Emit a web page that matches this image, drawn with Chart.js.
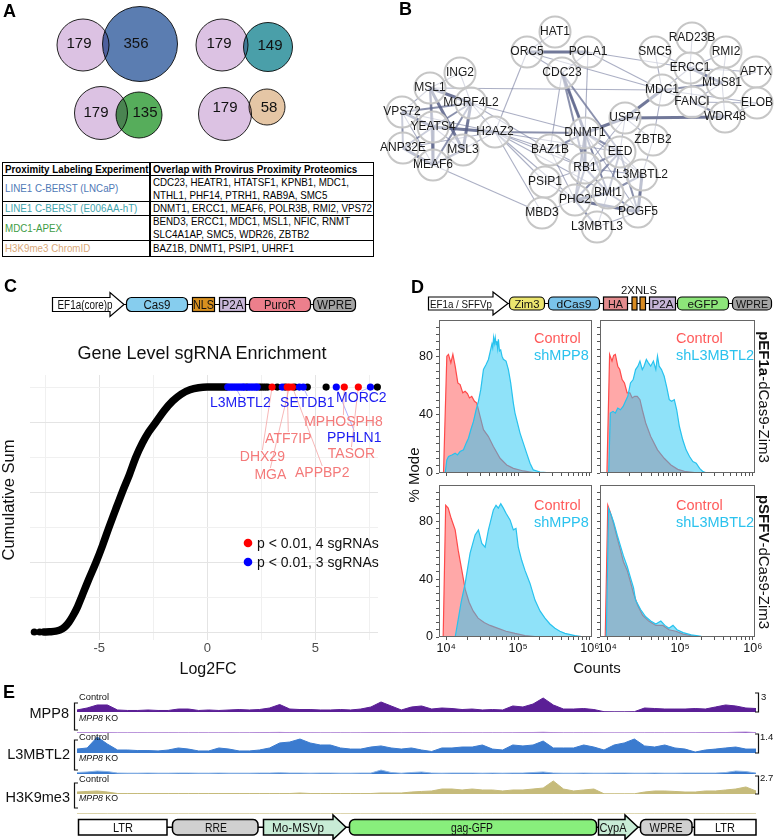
<!DOCTYPE html>
<html><head><meta charset="utf-8"><title>Figure</title>
<script src="https://cdn.jsdelivr.net/npm/chart.js@4.4.1/dist/chart.umd.min.js"></script>
<style>
html,body{margin:0;padding:0;background:#fff;}
#fig{position:relative;width:774px;height:840px;overflow:hidden;font-family:"Liberation Sans",Arial,Helvetica,sans-serif;color:#000;background:#fff;}
#ov{position:absolute;left:0;top:0;width:774px;height:840px;z-index:5;pointer-events:none;}
.tb{position:absolute;left:2px;top:162px;width:372px;height:95px;border:1px solid #000;box-sizing:border-box;font-size:11.5px;}
.hl{position:absolute;left:0;width:370px;height:0;border-top:1px solid #000;}
.vl{position:absolute;top:0;width:2px;height:93px;background:#000;left:146px;}
.cell{position:absolute;display:flex;align-items:center;white-space:nowrap;line-height:12.6px;}
.cell span{display:inline-block;transform:scaleX(0.85);transform-origin:left center;}
.hd{font-weight:bold;}
</style></head>
<body><div id="fig">
<div class="tb">
  <div class="hl" style="top:12px"></div>
  <div class="hl" style="top:37.5px"></div>
  <div class="hl" style="top:51.5px"></div>
  <div class="hl" style="top:77px"></div>
  <div class="vl"></div>
  <div class="cell hd" style="left:2px;top:0;height:12.5px;"><span>Proximity Labeling Experiment</span></div>
  <div class="cell hd" style="left:150px;top:0;height:12.5px;"><span>Overlap with Provirus Proximity Proteomics</span></div>
  <div class="cell" style="left:2px;top:13px;height:25px;color:#4f79b6;"><span>LINE1 C-BERST (LNCaP)</span></div>
  <div class="cell" style="left:150px;top:13px;height:25px;"><span>CDC23, HEATR1, HTATSF1, KPNB1, MDC1,<br>NTHL1, PHF14, PTRH1, RAB9A, SMC5</span></div>
  <div class="cell" style="left:2px;top:38.5px;height:13px;color:#3fa4ad;"><span>LINE1 C-BERST (E006AA-hT)</span></div>
  <div class="cell" style="left:150px;top:38.5px;height:13px;"><span>DNMT1, ERCC1, MEAF6, POLR3B, RMI2, VPS72</span></div>
  <div class="cell" style="left:2px;top:52.5px;height:25px;color:#3f9d46;"><span>MDC1-APEX</span></div>
  <div class="cell" style="left:150px;top:52.5px;height:25px;"><span>BEND3, ERCC1, MDC1, MSL1, NFIC, RNMT<br>SLC4A1AP, SMC5, WDR26, ZBTB2</span></div>
  <div class="cell" style="left:2px;top:78px;height:15px;color:#d9a878;"><span>H3K9me3 ChromID</span></div>
  <div class="cell" style="left:150px;top:78px;height:15px;"><span>BAZ1B, DNMT1, PSIP1, UHRF1</span></div>
</div>

<svg id="ov" xmlns="http://www.w3.org/2000/svg" width="774" height="840" font-family="Liberation Sans, Arial, sans-serif">
 <g font-weight="bold" font-size="18">
  <text x="3" y="17">A</text><text x="399" y="15">B</text><text x="4" y="292">C</text><text x="411" y="293">D</text><text x="3" y="698">E</text>
 </g>
 <!-- C construct -->
 <g stroke="#000" stroke-width="1.2">
  <line x1="118" y1="304.5" x2="314" y2="304.5"/>
  <path d="M52.5,297.5 H110 V292.5 L124,304.5 L110,316.5 V311.5 H52.5 Z" fill="#fff"/>
  <rect x="126.5" y="297.5" width="61" height="14" rx="5" fill="#86cdee"/>
  <rect x="192.5" y="297.5" width="22" height="14" fill="#d8901f"/>
  <rect x="219.5" y="297.5" width="26" height="14" fill="#cab9da"/>
  <rect x="249.5" y="297.5" width="61" height="14" rx="5" fill="#ec7f8c"/>
  <rect x="313.5" y="297.5" width="42" height="14" rx="5" fill="#a3a3a3"/>
 </g>
 <g font-size="12.5" text-anchor="middle" fill="#111">
  <text x="85" y="309" textLength="55" lengthAdjust="spacingAndGlyphs">EF1a(core)p</text>
  <text x="157" y="309" textLength="27" lengthAdjust="spacingAndGlyphs">Cas9</text>
  <text x="203.5" y="309" textLength="21" lengthAdjust="spacingAndGlyphs">NLS</text>
  <text x="232.5" y="309" textLength="22" lengthAdjust="spacingAndGlyphs">P2A</text>
  <text x="280" y="309" textLength="32" lengthAdjust="spacingAndGlyphs">PuroR</text>
  <text x="334.5" y="309" textLength="35" lengthAdjust="spacingAndGlyphs">WPRE</text>
 </g>
 <text x="202" y="359" font-size="18" text-anchor="middle" fill="#111">Gene Level sgRNA Enrichment</text>
 <text transform="translate(14,500) rotate(-90)" font-size="16.5" text-anchor="middle" fill="#111">Cumulative Sum</text>
 <text x="208" y="674" font-size="16" text-anchor="middle" fill="#111">Log2FC</text>
 <circle cx="248" cy="543" r="4.3" fill="#ff0000"/>
 <text x="257" y="548" font-size="14" fill="#111">p &lt; 0.01, 4 sgRNAs</text>
 <circle cx="248" cy="562" r="4.3" fill="#0000ff"/>
 <text x="257" y="567" font-size="14" fill="#111">p &lt; 0.01, 3 sgRNAs</text>
 <!-- D construct -->
 <g stroke="#000" stroke-width="1.2">
  <line x1="495" y1="303.5" x2="770" y2="303.5"/>
  <path d="M428.5,297 H493 V292 L508,303.5 L493,315 V310 H428.5 Z" fill="#fff"/>
  <rect x="509.5" y="297" width="35" height="13" rx="4.5" fill="#ebe56e"/>
  <rect x="548.5" y="297" width="51" height="13" rx="4.5" fill="#7ac3ea"/>
  <rect x="603.5" y="297" width="24" height="13" fill="#e38c8e"/>
  <rect x="632" y="297" width="5" height="13" fill="#d98c22"/>
  <rect x="640" y="297" width="5.5" height="13" fill="#d98c22"/>
  <rect x="649.5" y="297" width="26" height="13" fill="#c7b5d8"/>
  <rect x="677.5" y="297" width="51" height="13" rx="4.5" fill="#8de57a"/>
  <rect x="732.5" y="297" width="39" height="13" rx="4.5" fill="#a3a3a3"/>
 </g>
 <g font-size="11.5" text-anchor="middle" fill="#111">
  <text x="461" y="307.5" textLength="62" lengthAdjust="spacingAndGlyphs">EF1a / SFFVp</text>
  <text x="527" y="307.5" textLength="25" lengthAdjust="spacingAndGlyphs">Zim3</text>
  <text x="574" y="307.5" textLength="35" lengthAdjust="spacingAndGlyphs">dCas9</text>
  <text x="615.5" y="307.5" textLength="15" lengthAdjust="spacingAndGlyphs">HA</text>
  <text x="662.5" y="307.5" textLength="22" lengthAdjust="spacingAndGlyphs">P2A</text>
  <text x="703" y="307.5" textLength="31" lengthAdjust="spacingAndGlyphs">eGFP</text>
  <text x="752" y="307.5" textLength="32" lengthAdjust="spacingAndGlyphs">WPRE</text>
  <text x="639" y="294" textLength="36" lengthAdjust="spacingAndGlyphs">2XNLS</text>
 </g>
 <g font-size="14.5">
  <text x="534" y="343" fill="#ff5a5a">Control</text><text x="534" y="360" fill="#2bc2ee">shMPP8</text>
  <text x="676" y="343" fill="#ff5a5a">Control</text><text x="676" y="360" fill="#2bc2ee">shL3MBTL2</text>
  <text x="534" y="510" fill="#ff5a5a">Control</text><text x="534" y="527" fill="#2bc2ee">shMPP8</text>
  <text x="676" y="510" fill="#ff5a5a">Control</text><text x="676" y="527" fill="#2bc2ee">shL3MBTL2</text>
 </g>
 <text transform="translate(419,475) rotate(-90)" font-size="15" text-anchor="middle" fill="#111">% Mode</text>
 <text x="597" y="673" font-size="15" text-anchor="middle" fill="#111">Counts</text>
 <text transform="translate(759,397) rotate(90)" font-size="15" text-anchor="middle" fill="#111"><tspan font-weight="bold">pEF1a</tspan>-dCas9-Zim3</text>
 <text transform="translate(759,562) rotate(90)" font-size="15" text-anchor="middle" fill="#111"><tspan font-weight="bold">pSFFV</tspan>-dCas9-Zim3</text>
 <!-- E -->
 <g font-size="14.5" text-anchor="end" fill="#111">
  <text x="69" y="718">MPP8</text><text x="70" y="759">L3MBTL2</text><text x="70" y="802">H3K9me3</text>
 </g>
 <g font-size="9.5" fill="#111">
  <text x="79" y="700" textLength="30" lengthAdjust="spacingAndGlyphs">Control</text>
  <text x="79" y="721" textLength="39" lengthAdjust="spacingAndGlyphs"><tspan font-style="italic">MPP8</tspan> KO</text>
  <text x="79" y="740" textLength="30" lengthAdjust="spacingAndGlyphs">Control</text>
  <text x="79" y="761" textLength="39" lengthAdjust="spacingAndGlyphs"><tspan font-style="italic">MPP8</tspan> KO</text>
  <text x="79" y="782" textLength="30" lengthAdjust="spacingAndGlyphs">Control</text>
  <text x="79" y="801" textLength="39" lengthAdjust="spacingAndGlyphs"><tspan font-style="italic">MPP8</tspan> KO</text>
  <text x="761" y="700">3</text><text x="760" y="740">1.4</text><text x="760" y="781">2.7</text>
 </g>
 <g stroke="#111" stroke-width="1.2" fill="none">
  <path d="M78,703 H74.5 V730 H78"/><path d="M78,740 H74.5 V770 H78"/><path d="M78,783 H74.5 V808 H78"/>
  <path d="M755,693 H758.5 V712 H755"/><path d="M755,734 H758.5 V753 H755"/><path d="M755,776 H758.5 V794 H755"/>
 </g>
 <g stroke="#000" stroke-width="1.5">
  <line x1="167" y1="827.3" x2="694" y2="827.3"/>
  <rect x="78.5" y="819.5" width="88.5" height="15.5" fill="#fff"/>
  <rect x="172.5" y="819.5" width="85.5" height="15.5" rx="5" fill="#d0d0d0"/>
  <path d="M263.5,819.5 H333 V815 L346,827.3 L333,839.5 V835 H263.5 Z" fill="#c8ecd6"/>
  <rect x="349.5" y="819.5" width="247" height="15.5" rx="5" fill="#88ef7c"/>
  <path d="M598.5,819.5 H625 V815 L638,827.3 L625,839.5 V835 H598.5 Z" fill="#c8ecd6"/>
  <rect x="640.5" y="819.5" width="51.5" height="15.5" rx="5" fill="#d0d0d0"/>
  <rect x="694.5" y="819.5" width="61.5" height="15.5" fill="#fff"/>
 </g>
 <g font-size="13" text-anchor="middle" fill="#111">
  <text x="123" y="832" textLength="20" lengthAdjust="spacingAndGlyphs">LTR</text>
  <text x="216" y="832" textLength="22" lengthAdjust="spacingAndGlyphs">RRE</text>
  <text x="298" y="832" textLength="52" lengthAdjust="spacingAndGlyphs">Mo-MSVp</text>
  <text x="472" y="832" textLength="42" lengthAdjust="spacingAndGlyphs">gag-GFP</text>
  <text x="613" y="832" textLength="27" lengthAdjust="spacingAndGlyphs">CypA</text>
  <text x="666" y="832" textLength="33" lengthAdjust="spacingAndGlyphs">WPRE</text>
  <text x="725" y="832" textLength="20" lengthAdjust="spacingAndGlyphs">LTR</text>
 </g>
</svg>
</div>
<script>
// ================= DATA =================
// Panel A – Venn counts
const vennExperiments = ['LINE1 C-BERST (LNCaP)','LINE1 C-BERST (E006AA-hT)','MDC1-APEX','H3K9me3 ChromID'];
const provirusProteins = [179,179,179,179];
const experimentProteins = [356,149,135,58];

// Panel B – STRING network
const netNodes = ['HAT1','ORC5','POLA1','CDC23','RAD23B','SMC5','RMI2','ERCC1','APTX','MUS81','MDC1','FANCI','ELOB','WDR48','USP7','ZBTB2','DNMT1','EED','BAZ1B','RB1','L3MBTL2','PSIP1','BMI1','PHC2','PCGF5','MBD3','L3MBTL3','ING2','MSL1','MORF4L2','VPS72','YEATS4','H2AZ2','ANP32E','MSL3','MEAF6'];
const netEdges = [
['ING2','MORF4L2',1],['ING2','MSL1',1],['MSL1','MORF4L2',3],['MSL1','VPS72',1],['MSL1','YEATS4',2],['MSL1','MSL3',3],['MSL1','MEAF6',2],['VPS72','YEATS4',3],['VPS72','ANP32E',2],['VPS72','MORF4L2',2],['VPS72','MEAF6',1],['YEATS4','ANP32E',2],['YEATS4','MEAF6',3],['YEATS4','MORF4L2',2],['YEATS4','H2AZ2',3],['YEATS4','MSL3',1],['ANP32E','MEAF6',3],['ANP32E','H2AZ2',1],['MORF4L2','MSL3',3],['MORF4L2','MEAF6',2],['MORF4L2','H2AZ2',1],['MSL3','MEAF6',2],['MEAF6','H2AZ2',1],['VPS72','H2AZ2',1],['MSL1','MDC1',1],['MORF4L2','DNMT1',1],['MORF4L2','BAZ1B',1],['MEAF6','MBD3',1],['H2AZ2','ORC5',1],['H2AZ2','BAZ1B',1],['H2AZ2','PSIP1',1],['H2AZ2','MBD3',1],['H2AZ2','PHC2',1],['H2AZ2','RB1',1],['H2AZ2','DNMT1',2],['H2AZ2','EED',1],['H2AZ2','BMI1',1],
['HAT1','ORC5',1],['ORC5','POLA1',3],['ORC5','CDC23',1],['ORC5','MDC1',1],['POLA1','CDC23',1],['POLA1','MDC1',1],['POLA1','DNMT1',1],['POLA1','ERCC1',1],['CDC23','DNMT1',3],['CDC23','RB1',2],['CDC23','EED',2],['CDC23','BAZ1B',1],['CDC23','BMI1',1],
['RAD23B','ERCC1',1],['SMC5','ERCC1',1],['SMC5','MDC1',1],['RMI2','ERCC1',1],['RMI2','MUS81',1],['ERCC1','MUS81',3],['ERCC1','MDC1',1],['ERCC1','FANCI',1],['ERCC1','APTX',1],['APTX','MUS81',1],['MUS81','MDC1',2],['MUS81','FANCI',1],['MUS81','WDR48',1],['MDC1','FANCI',1],['MDC1','USP7',3],['MDC1','ELOB',1],['MDC1','ZBTB2',1],['FANCI','ELOB',1],['FANCI','WDR48',2],['WDR48','USP7',3],['WDR48','ELOB',1],['USP7','DNMT1',3],['USP7','EED',1],['USP7','ZBTB2',1],['USP7','RB1',1],
['DNMT1','BAZ1B',2],['DNMT1','RB1',3],['DNMT1','EED',2],['DNMT1','BMI1',2],['DNMT1','L3MBTL2',1],['DNMT1','PHC2',2],['DNMT1','PCGF5',1],['EED','RB1',2],['EED','BMI1',2],['EED','L3MBTL2',1],['EED','PCGF5',2],['EED','PHC2',2],['RB1','BMI1',2],['RB1','PHC2',2],['RB1','L3MBTL2',1],['RB1','BAZ1B',1],['BMI1','PHC2',3],['BMI1','PCGF5',2],['BMI1','L3MBTL2',2],['BMI1','L3MBTL3',1],['PHC2','PCGF5',3],['PHC2','L3MBTL3',2],['PHC2','MBD3',1],['L3MBTL2','PCGF5',3],['L3MBTL2','ZBTB2',1],['BAZ1B','PHC2',1],['PSIP1','PHC2',1],['PSIP1','RB1',1],['L3MBTL3','PCGF5',1]
];

// Panel C – cumulative sum of gene-level log2FC (thousands of genes)
const curveLog2FC = [-7.55,-7.3,-7.0,-6.8,-6.6,-6.4,-6.2,-6.0,-5.8,-5.5,-5.14,-4.84,-4.54,-4.25,-3.93,-3.6,-3.3,-3.0,-2.7,-2.37,-2.0,-1.6,-1.2,-0.8,-0.4,0.0,0.4,0.8];
const curveCumSum = [0.0,0.02,0.06,0.15,0.35,0.7,1.2,1.8,2.55,3.7,5.0,6.2,7.5,8.7,10.0,11.25,12.5,13.5,14.3,15.0,15.8,16.5,17.0,17.3,17.45,17.5,17.5,17.5];
const lowOutlierLog2FC = [-8.0,-7.75];
const cumTotal = 17.5;
const topBlackLog2FC = [0.9,1.81,2.41,2.5,2.6,2.7,2.8,3.24,3.6,4.05,4.63,5.5,7.87];
const topBlueLog2FC = [0.95,1.03,1.11,1.19,1.27,1.35,1.43,1.51,1.59,1.67,1.71,1.87,1.95,2.03,2.11,2.19,2.27,2.31,3.47,4.26,4.44,5.97,7.55];
const topRedLog2FC = [3.0,3.7,3.8,3.94,6.34,6.99];
const sigGenes = ['L3MBTL2','SETDB1','PPHLN1','MORC2','DHX29','ATF7IP','MGA','APPBP2','MPHOSPH8','TASOR'];
const sigGeneLog2FC = [1.3,4.44,5.97,7.55,3.0,3.7,3.8,3.94,6.34,6.99];
const sigGeneSgRNAs = [3,3,3,3,4,4,4,4,4,4];
const cTickValues = [-5,0,5];

// Panel D – flow histograms: [log10(counts), % of mode]
const histTickValues = [1e4,1e5,1e6];
const histTickLabels = ['10\u2074','10\u2075','10\u2076'];
const modeTickLabels = [0,40,80];
const histEF1a_ctrlA = [[3.963,0],[4.009,80.2],[4.032,81.4],[4.065,75.6],[4.093,81.4],[4.125,73.3],[4.162,61.8],[4.194,60.7],[4.231,55],[4.264,56.1],[4.296,54.5],[4.324,51.5],[4.356,52.6],[4.394,49.2],[4.426,48],[4.472,38.9],[4.519,29.7],[4.588,25],[4.657,18.2],[4.75,10.1],[4.843,5.5],[4.935,3.2],[5.074,1.4],[5.213,0.2],[5.398,0]];
const histEF1a_shMPP8 = [[3.986,0],[4.009,9],[4.032,11.3],[4.079,12.4],[4.125,13.6],[4.157,12.4],[4.194,14.7],[4.241,15.9],[4.278,20.5],[4.31,23.9],[4.343,29.7],[4.38,35.4],[4.417,43.4],[4.449,49.2],[4.481,57.2],[4.519,71],[4.556,74.5],[4.588,77.9],[4.62,84.8],[4.637,88.5],[4.648,86],[4.66,92.9],[4.671,89],[4.683,93],[4.695,88],[4.704,90.5],[4.716,85.5],[4.727,91.7],[4.742,83.7],[4.759,84.5],[4.777,80.2],[4.796,78],[4.833,76.8],[4.866,71],[4.898,61.8],[4.935,48],[4.958,41.1],[4.981,36.6],[5.028,27.4],[5.074,20.5],[5.12,13.6],[5.167,6.7],[5.213,2.1],[5.306,0.7],[5.398,0.2],[5.583,0]];
const histEF1a_ctrlB = [[3.995,0],[4.032,81.4],[4.065,76.8],[4.088,80.7],[4.111,81.4],[4.144,73.3],[4.171,71],[4.204,64.1],[4.236,61.8],[4.273,55],[4.31,55],[4.343,51.5],[4.375,52.6],[4.412,52.6],[4.449,50.3],[4.481,43.4],[4.528,34.3],[4.597,25],[4.69,15.9],[4.782,10.1],[4.875,5.5],[4.968,2.5],[5.06,1.1],[5.199,0.2],[5.3,0]];
const histEF1a_shL3MBTL2 = [[4.019,0],[4.042,41.1],[4.079,42.3],[4.111,41.1],[4.144,44.6],[4.181,43.4],[4.218,45.7],[4.25,49.2],[4.282,52.6],[4.319,61.8],[4.356,64.1],[4.389,71],[4.421,73.3],[4.449,76.8],[4.481,71],[4.505,73.3],[4.537,77.9],[4.565,75.6],[4.597,73.3],[4.634,76.8],[4.667,71],[4.69,80.2],[4.713,73.3],[4.745,71],[4.782,66.4],[4.819,58.4],[4.852,50.3],[4.884,49.2],[4.921,50.3],[4.954,43.4],[4.991,31.9],[5.037,22.8],[5.083,15.9],[5.13,11.3],[5.176,7.8],[5.222,6.7],[5.269,3.2],[5.315,0.9],[5.361,0.2],[5.431,0]];
const histSFFV_ctrlA = [[3.958,0],[3.993,91],[4.028,89],[4.069,82],[4.125,74],[4.167,60],[4.218,46],[4.264,33],[4.319,24],[4.375,18],[4.444,13],[4.528,10],[4.611,8],[4.722,6],[4.833,4],[4.958,2.5],[5.097,1],[5.306,0]];
const histSFFV_shMPP8 = [[4.125,0],[4.167,12],[4.208,24],[4.264,37],[4.333,58],[4.403,70.5],[4.449,74],[4.496,64.6],[4.542,62],[4.588,74],[4.657,87.8],[4.694,91],[4.726,89],[4.76,92],[4.796,89],[4.833,85.5],[4.889,80.9],[4.935,74],[4.972,75],[5.004,62],[5.051,53],[5.097,46],[5.167,37],[5.236,25.5],[5.306,18],[5.375,13],[5.444,9],[5.514,6],[5.583,4],[5.653,2.5],[5.792,1],[5.931,0]];
const histSFFV_ctrlB = [[3.972,0],[4.007,91],[4.042,86],[4.088,78],[4.139,68],[4.181,60],[4.222,52],[4.274,46],[4.319,38],[4.361,30],[4.417,22],[4.486,15],[4.569,11],[4.667,8],[4.764,8],[4.847,5],[4.944,4],[5.042,2],[5.153,1],[5.292,0]];
const histSFFV_shL3MBTL2 = [[3.986,0],[4.018,88.7],[4.056,84],[4.088,79.3],[4.139,70],[4.181,63],[4.222,56],[4.274,48.7],[4.319,41],[4.361,34],[4.389,25.5],[4.458,19],[4.528,14],[4.597,11],[4.667,9],[4.736,11],[4.792,8],[4.847,6],[4.903,8],[4.958,5],[5.042,3],[5.153,1.5],[5.292,0.5],[5.458,0]];

// Panel E – coverage tracks (68 bins across the provirus)
const trackScaleMax = [3,1.4,2.7];
const mpp8Control = [0.32,0.63,1.11,1.11,0.32,0.24,0.24,0.32,0.24,0.24,0.47,0.47,0.24,0.32,0.24,0.32,0.39,0.32,0.39,0.63,1.18,0.47,0.39,0.39,0.32,0.32,0.39,0.32,0.47,0.79,1.58,0.95,0.32,0.79,0.95,0.47,0.63,0.55,0.39,0.47,0.32,0.39,0.32,0.95,0.79,1.26,2.21,1.11,0.47,0.47,0.55,0.39,0.05,0.03,0.03,0.05,0.63,0.55,0.47,0.47,0.47,0.55,0.47,0.79,1.11,0.95,0.63,0.55];
const mpp8KO = [0.05,0.06,0.08,0.06,0.04,0.04,0.05,0.04,0.04,0.05,0.04,0.04,0.05,0.04,0.04,0.05,0.04,0.05,0.06,0.08,0.1,0.06,0.05,0.05,0.04,0.04,0.05,0.04,0.05,0.06,0.08,0.06,0.05,0.06,0.07,0.05,0.04,0.05,0.05,0.04,0.04,0.05,0.04,0.05,0.06,0.08,0.12,0.06,0.04,0.04,0.05,0.04,0.02,0.02,0.02,0.02,0.04,0.05,0.04,0.05,0.04,0.05,0.06,0.08,0.07,0.12,0.15,0.06];
const l3mbtl2Control = [0.29,0.37,1.18,0.66,0.22,0.22,0.18,0.18,0.15,0.22,0.37,0.29,0.15,0.15,0.37,0.29,0.15,0.15,0.22,0.37,0.74,0.81,1.03,0.74,0.59,0.59,0.37,0.29,0.29,0.44,0.52,0.37,0.29,0.37,0.22,0.11,0.37,0.37,0.44,0.44,0.59,0.29,0.22,0.59,0.52,0.59,0.88,0.37,0.37,0.37,0.59,0.44,0.22,0.59,0.74,1.03,0.52,0.44,0.59,0.37,0.29,0.07,0.22,0.29,0.37,0.44,0.29,0.29];
const l3mbtl2KO = [0.11,0.15,0.22,0.18,0.07,0.06,0.06,0.07,0.06,0.06,0.07,0.07,0.06,0.06,0.07,0.06,0.06,0.06,0.07,0.07,0.09,0.07,0.07,0.06,0.07,0.07,0.06,0.06,0.07,0.07,0.29,0.11,0.06,0.11,0.15,0.07,0.06,0.07,0.07,0.07,0.06,0.07,0.06,0.07,0.07,0.11,0.15,0.07,0.06,0.06,0.07,0.06,0.06,0.07,0.07,0.06,0.06,0.07,0.06,0.06,0.07,0.07,0.07,0.07,0.11,0.22,0.18,0.07];
const h3k9Control = [0.28,0.36,0.43,0.28,0.07,0.07,0.07,0.07,0.07,0.07,0.07,0.07,0.07,0.07,0.07,0.07,0.07,0.07,0.07,0.07,0.07,0.07,0.14,0.07,0.07,0.07,0.07,0.07,0.07,0.07,0.14,0.14,0.14,0.28,0.36,0.43,0.71,0.71,0.57,0.71,0.57,0.57,0.43,0.57,0.57,0.71,0.85,1.85,0.71,0.43,0.57,0.71,0.03,0.03,0.03,0.03,0.28,0.43,0.43,0.36,0.28,0.28,0.43,0.43,0.57,0.71,1.0,0.43];
const h3k9KO = [0.05,0.05,0.06,0.05,0.04,0.04,0.04,0.04,0.04,0.04,0.04,0.04,0.04,0.04,0.04,0.04,0.04,0.04,0.04,0.04,0.04,0.04,0.04,0.04,0.04,0.04,0.04,0.04,0.04,0.04,0.04,0.04,0.04,0.04,0.04,0.04,0.05,0.04,0.04,0.04,0.04,0.04,0.04,0.04,0.04,0.04,0.05,0.05,0.04,0.04,0.04,0.04,0.03,0.03,0.03,0.03,0.04,0.04,0.04,0.04,0.04,0.04,0.04,0.04,0.04,0.04,0.05,0.04];

// ================= LAYOUT (positions only) =================
const vennLayout = [
  {p:[83,45,26], e:[140,44,37.5], pl:[79,44], el:[136,44]},
  {p:[222,45,26], e:[268,47,24.5], pl:[219,44], el:[270,46]},
  {p:[101,113,26.5], e:[139,115,23], pl:[96,113], el:[145,113]},
  {p:[225,114,26.5], e:[267,107,18], pl:[225,108], el:[269,108]}
];
const vennColors = ['#5b7db1','#4a9fa9','#56ad5b','#e5c6a5'];
const netPos = {HAT1:[555,32],ORC5:[527,52],POLA1:[588,52],CDC23:[562,73],RAD23B:[692,38],SMC5:[655,52],RMI2:[726,52],ERCC1:[690,68],APTX:[756,72],MUS81:[722,83],MDC1:[662,90],FANCI:[692,102],ELOB:[757,103],WDR48:[725,117],USP7:[625,118],ZBTB2:[653,140],DNMT1:[585,133],EED:[620,152],BAZ1B:[550,150],RB1:[585,168],L3MBTL2:[642,175],PSIP1:[545,182],BMI1:[608,193],PHC2:[575,200],PCGF5:[638,212],MBD3:[542,213],L3MBTL3:[597,227],ING2:[460,73],MSL1:[430,88],MORF4L2:[471,103],VPS72:[402,112],YEATS4:[433,127],H2AZ2:[495,132],ANP32E:[403,148],MSL3:[463,150],MEAF6:[433,165]};
const sigLabelAt = {L3MBTL2:[1.53,16.36],SETDB1:[4.63,16.36],MORC2:[7.13,16.71],MPHOSPH8:[6.3,15.0],PPHLN1:[6.8,13.86],TASOR:[6.67,12.71],ATF7IP:[3.75,13.79],DHX29:[2.55,12.5],MGA:[2.92,11.21],APPBP2:[5.32,11.36]};

// ================= CHARTS =================
Chart.defaults.font.family = "'Liberation Sans', Arial, sans-serif";
Chart.defaults.animation = false;
Chart.defaults.responsive = false;
Chart.defaults.devicePixelRatio = 1;
Chart.defaults.layout.autoPadding = false;
Chart.defaults.plugins.legend.display = false;
Chart.defaults.plugins.tooltip.enabled = false;
Chart.defaults.events = [];

function mkCanvas(left, top, w, h){
  const c = document.createElement('canvas');
  c.width = w; c.height = h;
  c.style.cssText = 'position:absolute;left:'+left+'px;top:'+top+'px;width:'+w+'px;height:'+h+'px;';
  document.getElementById('fig').appendChild(c);
  return c.getContext('2d');
}
const blendPlugin = {id:'blend',
  beforeDatasetDraw(chart,args){const ds=chart.data.datasets[args.index]; if(ds.blend){chart.ctx.save(); chart.ctx.globalCompositeOperation=ds.blend;}},
  afterDatasetDraw(chart,args){const ds=chart.data.datasets[args.index]; if(ds.blend){chart.ctx.restore();}}
};

// ---- A: Venn ----
new Chart(mkCanvas(0,0,372,160), {
  type:'bubble',
  data:{datasets:[
    {data: vennLayout.map(l=>({x:l.e[0],y:l.e[1],r:l.e[2]})), backgroundColor:vennColors, borderColor:'#222', borderWidth:1, blend:'multiply', order:0, clip:false},
    {data: vennLayout.map(l=>({x:l.p[0],y:l.p[1],r:l.p[2]})), backgroundColor:'#dcc2e3', borderColor:'#222', borderWidth:1, order:1, clip:false}
  ]},
  options:{layout:{padding:0,autoPadding:false}, scales:{x:{type:'linear',display:false,min:0,max:372}, y:{type:'linear',display:false,min:0,max:160,reverse:true}}},
  plugins:[blendPlugin,{id:'vennLabels',afterDatasetsDraw(chart){
    const {ctx,scales:{x,y}}=chart; ctx.save(); ctx.font='15px "Liberation Sans", Arial'; ctx.fillStyle='#111'; ctx.textAlign='center'; ctx.textBaseline='middle';
    vennLayout.forEach((l,i)=>{
      ctx.fillText(String(provirusProteins[i]), x.getPixelForValue(l.pl[0]), y.getPixelForValue(l.pl[1]));
      ctx.fillText(String(experimentProteins[i]), x.getPixelForValue(l.el[0]), y.getPixelForValue(l.el[1]));
    });
    ctx.restore();}}]
});

// ---- B: network ----
(function(){
  const edgeStyle = {1:{c:'rgba(115,122,156,0.6)',w:1.1},2:{c:'rgba(100,108,145,0.75)',w:2},3:{c:'rgba(88,96,135,0.85)',w:3}};
  const ds = netEdges.map(e=>({data:[{x:netPos[e[0]][0],y:netPos[e[0]][1]},{x:netPos[e[1]][0],y:netPos[e[1]][1]}], showLine:true, pointRadius:0, borderColor:edgeStyle[e[2]].c, borderWidth:edgeStyle[e[2]].w, order:1, clip:false}));
  ds.unshift({data: netNodes.map(n=>({x:netPos[n][0],y:netPos[n][1]})), pointRadius:15.5, pointBorderWidth:2, pointBorderColor:'#c6c6c6', pointBackgroundColor:'rgba(255,255,255,0.55)', order:0, clip:false});
  new Chart(mkCanvas(375,0,399,255), {
    type:'scatter', data:{datasets:ds},
    options:{layout:{padding:0,autoPadding:false}, scales:{x:{type:'linear',display:false,min:375,max:774}, y:{type:'linear',display:false,min:0,max:255,reverse:true}}},
    plugins:[{id:'nodeLabels',afterDatasetsDraw(chart){
      const {ctx,scales:{x,y}}=chart; ctx.save(); ctx.font='12px "Liberation Sans", Arial'; ctx.fillStyle='#1a1a1a'; ctx.textAlign='center'; ctx.textBaseline='middle';
      netNodes.forEach(n=>ctx.fillText(n, x.getPixelForValue(netPos[n][0]), y.getPixelForValue(netPos[n][1])));
      ctx.restore();}}]
  });
})();

// ---- C: cumulative sum ----
(function(){
  const pts = a => a.map(v=>({x:v,y:cumTotal}));
  new Chart(mkCanvas(0,370,392,298), {
    type:'scatter',
    data:{datasets:[
      {data:pts(topRedLog2FC), pointRadius:3.6, backgroundColor:'#ff0000', borderWidth:0, order:0, clip:false},
      {data:pts(topBlueLog2FC), pointRadius:3.6, backgroundColor:'#0000ff', borderWidth:0, order:1, clip:false},
      {data:pts(topBlackLog2FC), pointRadius:3.6, backgroundColor:'#000', borderWidth:0, order:2, clip:false},
      {data:lowOutlierLog2FC.map(v=>({x:v,y:0})), pointRadius:3.6, backgroundColor:'#000', borderWidth:0, order:3, clip:false},
      {data:curveLog2FC.map((v,i)=>({x:v,y:curveCumSum[i]})), showLine:true, pointRadius:0, borderColor:'#000', borderWidth:7.5, cubicInterpolationMode:'monotone', borderCapStyle:'round', order:4, clip:false}
    ]},
    options:{
      layout:{padding:{left:30,top:5,right:14,bottom:0},autoPadding:false},
      scales:{
        x:{type:'linear',min:-8.2,max:7.9,
          afterBuildTicks:s=>{s.ticks=[-7.5,-5,-2.5,0,2.5,5,7.5].map(v=>({value:v}));},
          ticks:{autoSkip:false,maxRotation:0,padding:1,font:{size:13},color:'#4d4d4d',callback:v=>cTickValues.includes(v)?String(v):''},
          grid:{drawTicks:false,color:c=>cTickValues.includes(c.tick.value)?'#e4e4e4':'#f0f0f0',lineWidth:1},
          border:{display:false},
          afterFit:s=>{s.height=28;s.paddingLeft=0;s.paddingRight=0;}},
        y:{type:'linear',min:-0.57,max:18.36,
          afterBuildTicks:s=>{s.ticks=[0,2.5,5,7.5,10,12.5,15,17.5].map(v=>({value:v}));},
          ticks:{display:false},
          grid:{drawTicks:false,color:c=>(c.tick.value%5===0)?'#e4e4e4':'#f0f0f0',lineWidth:1},
          border:{display:false},
          afterFit:s=>{s.width=0;s.paddingTop=0;s.paddingBottom=0;}}
      }
    },
    plugins:[{id:'geneLabels',
      beforeDatasetsDraw(chart){
        const {ctx,scales:{x,y}}=chart; ctx.save(); ctx.lineWidth=0.8;
        sigGenes.forEach((g,i)=>{const L=sigLabelAt[g];
          ctx.strokeStyle = sigGeneSgRNAs[i]===4 ? '#f5a5a5' : '#9a9aff';
          ctx.beginPath(); ctx.moveTo(x.getPixelForValue(sigGeneLog2FC[i]), y.getPixelForValue(cumTotal)); ctx.lineTo(x.getPixelForValue(L[0]), y.getPixelForValue(L[1])-7); ctx.stroke();});
        ctx.restore();},
      afterDatasetsDraw(chart){
        const {ctx,scales:{x,y}}=chart; ctx.save(); ctx.font='14px "Liberation Sans", Arial'; ctx.textAlign='center'; ctx.textBaseline='middle';
        sigGenes.forEach((g,i)=>{const L=sigLabelAt[g]; ctx.fillStyle = sigGeneSgRNAs[i]===4 ? '#f47a7a' : '#1c1cf2'; ctx.fillText(g, x.getPixelForValue(L[0]), y.getPixelForValue(L[1]));});
        ctx.restore();}
    }]
  });
})();

// ---- D: histograms ----
const boxPlugin = {id:'box', afterDraw(chart){const a=chart.chartArea, ctx=chart.ctx; ctx.save(); ctx.strokeStyle='#666'; ctx.lineWidth=1; ctx.strokeRect(Math.round(a.left)+0.5, Math.round(a.top)+0.5, Math.round(a.right-a.left)-1, Math.round(a.bottom-a.top)-1); ctx.restore();}};
const histMinorTicks = [];
[1e4,1e5].forEach(d=>{for(let m=1;m<10;m++) histMinorTicks.push(m*d);}); histMinorTicks.push(1e6);
const modeTicks = []; for(let v=0; v<=100; v+=5) modeTicks.push(v);
function hist(left, top, w, h, padR, yw, xh, ctrl, sh, showY, showX){
  return new Chart(mkCanvas(left, top, w, h), {
    type:'line',
    data:{datasets:[
      {label:'sh', data: sh.map(p=>({x:Math.pow(10,p[0]), y:p[1]})), borderColor:'#27c2ee', backgroundColor:'rgba(40,200,243,0.52)', borderWidth:1.2, fill:'origin', pointRadius:0, tension:0, order:0},
      {label:'Control', data: ctrl.map(p=>({x:Math.pow(10,p[0]), y:p[1]})), borderColor:'#ff4a4a', backgroundColor:'rgba(255,82,82,0.5)', borderWidth:1.2, fill:'origin', pointRadius:0, tension:0, order:1}
    ]},
    options:{
      layout:{padding:{left:0,top:5,right:padR,bottom:0},autoPadding:false},
      scales:{
        x:{type:'logarithmic', min:Math.pow(10,3.9), max:Math.pow(10,6.03),
          afterBuildTicks:s=>{s.ticks=histMinorTicks.map(v=>({value:v}));},
          ticks:{autoSkip:false,maxRotation:0,padding:1,font:{size:12.5},color:'#111',callback:v=>{const k=histTickValues.indexOf(v); return (showX && k>=0)?histTickLabels[k]:'';}},
          grid:{drawOnChartArea:false,drawTicks:true,tickLength:3,color:'#555',tickColor:'#555'},
          border:{display:false},
          afterFit:s=>{s.height=xh;s.paddingLeft=0;s.paddingRight=0;}},
        y:{type:'linear',min:0,max:105,
          afterBuildTicks:s=>{s.ticks=modeTicks.map(v=>({value:v}));},
          ticks:{autoSkip:false,padding:3,font:{size:12.5},color:'#111',callback:v=>(showY && modeTickLabels.includes(v))?String(v):''},
          grid:{drawOnChartArea:false,drawTicks:true,tickLength:3,color:'#555',tickColor:'#555'},
          border:{display:false},
          afterFit:s=>{s.width=yw;s.paddingTop=0;s.paddingBottom=0;}}
      }
    },
    plugins:[boxPlugin]
  });
}
hist(395,315,215,166,18,44,8,histEF1a_ctrlA,histEF1a_shMPP8,true,false);
hist(596,315,176,166,17,4,8,histEF1a_ctrlB,histEF1a_shL3MBTL2,false,false);
hist(395,480,215,180,18,44,23,histSFFV_ctrlA,histSFFV_shMPP8,true,true);
hist(596,480,176,180,17,4,23,histSFFV_ctrlB,histSFFV_shL3MBTL2,false,true);

// ---- E: coverage tracks ----
const trackBins = mpp8Control.map((_,i)=>'bin'+(i+1));
function track(baseline, vals, ymax, fill, line){
  new Chart(mkCanvas(77, baseline-19, 679, 20), {
    type:'line',
    data:{labels:trackBins, datasets:[{data:vals, borderColor:line, backgroundColor:fill, borderWidth:1, fill:'origin', pointRadius:0, tension:0}]},
    options:{layout:{padding:{bottom:1},autoPadding:false}, scales:{x:{display:false,offset:false}, y:{display:false,min:0,max:ymax}}}
  });
}
track(712, mpp8Control, trackScaleMax[0], '#5b1f96', '#5b1f96');
track(733, mpp8KO, trackScaleMax[0], '#7d45b8', '#b48ad8');
track(753, l3mbtl2Control, trackScaleMax[1], '#3b7bcf', '#3b7bcf');
track(774, l3mbtl2KO, trackScaleMax[1], '#3b7bcf', '#8db5e6');
track(794, h3k9Control, trackScaleMax[2], '#c6bb7b', '#c6bb7b');
track(814, h3k9KO, trackScaleMax[2], '#c6bb7b', '#d8d0a4');
</script>
</body></html>
